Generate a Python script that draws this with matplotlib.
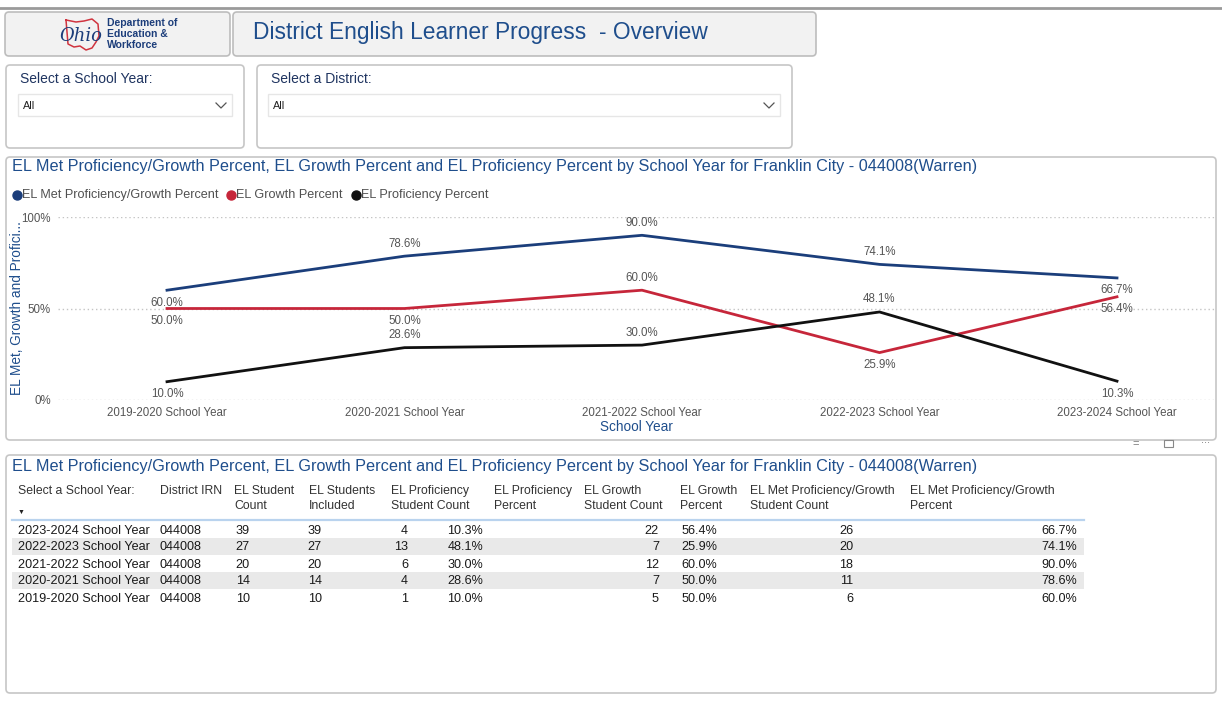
import matplotlib.pyplot as plt
from matplotlib.patches import FancyBboxPatch, Rectangle

plt.rcParams['font.family'] = ['Liberation Sans', 'DejaVu Sans']

# data
years = ['2019-2020 School Year', '2020-2021 School Year', '2021-2022 School Year',
         '2022-2023 School Year', '2023-2024 School Year']
district_irn = '044008'
el_count = [10, 14, 20, 27, 39]
el_included = [10, 14, 20, 27, 39]
prof_count = [1, 4, 6, 13, 4]
prof_pct = [10.0, 28.6, 30.0, 48.1, 10.3]
growth_count = [5, 7, 12, 7, 22]
growth_pct = [50.0, 50.0, 60.0, 25.9, 56.4]
met_count = [6, 11, 18, 20, 26]
met_pct = [60.0, 78.6, 90.0, 74.1, 66.7]

title_txt = 'EL Met Proficiency/Growth Percent, EL Growth Percent and EL Proficiency Percent by School Year for Franklin City - 044008(Warren)'

BLUE = '#1b3e7b'
RED = '#c6263a'
BLACK = '#111111'
NAVY = '#1f4e8c'
W, H = 1222, 720

fig = plt.figure(figsize=(W / 100, H / 100), dpi=100)
bg = fig.add_axes([0, 0, 1, 1])
bg.set_xlim(0, W)
bg.set_ylim(H, 0)
bg.axis('off')


def box(x0, y0, x1, y1, fc, ec='#c6c6c6', lw=1.2, r=4):
    p = FancyBboxPatch((x0, y0), x1 - x0, y1 - y0,
                       boxstyle=f'round,pad=0,rounding_size={r}',
                       fc=fc, ec=ec, lw=lw)
    bg.add_patch(p)


# top strip
bg.plot([0, W], [8, 8], color='#9a9a9a', lw=2)

# header boxes
box(5, 12, 230, 56, '#f2f2f2', ec='#bdbdbd')
box(233, 12, 816, 56, '#f2f2f2', ec='#bdbdbd')
bg.text(253, 32, 'District English Learner Progress  - Overview', fontsize=16.4,
        color=NAVY, va='center', ha='left')

# logo
ohio_x = [66, 76, 84, 92, 98, 99, 96, 92, 86, 80, 74, 68, 66]
ohio_y = [20, 22, 21, 19, 24, 36, 42, 48, 50, 46, 47, 44, 20]
bg.plot(ohio_x, ohio_y, color='#d0343f', lw=1.1)
bg.text(81, 36, 'Ohio', fontsize=13, fontstyle='italic', family='DejaVu Serif',
        color='#1c3d7a', ha='center', va='center')
for i, t in enumerate(['Department of', 'Education &', 'Workforce']):
    bg.text(107, 23 + i * 11, t, fontsize=7.5, fontweight='bold', color='#1c3d7a',
            va='center', ha='left')

# filter boxes
box(6, 65, 244, 148, 'white', ec='#c6c6c6')
box(257, 65, 792, 148, 'white', ec='#c6c6c6')
bg.text(20, 79, 'Select a School Year:', fontsize=10, color='#1f3460', va='center')
bg.text(271, 79, 'Select a District:', fontsize=10, color='#1f3460', va='center')
for x0, x1 in [(18, 232), (268, 780)]:
    bg.add_patch(Rectangle((x0, 94), x1 - x0, 22, fc='white', ec='#e6e6e6', lw=1))
    bg.text(x0 + 5, 106, 'All', fontsize=7.8, color='#222222', va='center')
    cx = x1 - 11
    bg.plot([cx - 5, cx, cx + 5], [103, 108, 103], color='#555555', lw=0.9)

# chart box
box(6, 157, 1216, 440, 'white', ec='#c6c6c6')
bg.text(12, 167, title_txt, fontsize=11.7, color=NAVY, va='center')

# legend
legend_items = [('EL Met Proficiency/Growth Percent', BLUE, 17),
                ('EL Growth Percent', RED, 231),
                ('EL Proficiency Percent', BLACK, 356)]
for lab, c, lx in legend_items:
    bg.plot([lx], [195], 'o', ms=6.5, color=c)
    bg.text(lx + 5, 195, lab, fontsize=9.1, color='#505050', va='center')

# line chart
ax = fig.add_axes([58 / W, 1 - 400 / H, (1215 - 58) / W, (400 - 217) / H])
xs = list(range(len(years)))
ax.set_xlim(-(167 - 58) / 237.5, 4 + (1215 - 1117) / 237.5)
ax.set_ylim(0, 100)
for s in ax.spines.values():
    s.set_visible(False)
ax.set_yticks([0, 50, 100])
ax.set_yticklabels(['0%', '50%', '100%'])
ax.set_xticks(xs)
ax.set_xticklabels(years)
ax.tick_params(length=0, labelsize=8.3, labelcolor='#555555')
ax.tick_params(axis='y', pad=5)
ax.tick_params(axis='x', pad=5)
ax.grid(axis='y', color='#c4c4c4', ls=(0, (1, 2)), lw=1)
ax.set_axisbelow(True)

series = [(met_pct, BLUE, [-1, 1, 1, 1, -1]),
          (growth_pct, RED, [-1, -1, 1, -1, -1]),
          (prof_pct, BLACK, [-1, 1, 1, 1, -1])]
for vals, c, place in series:
    ax.plot(xs, vals, color=c, lw=2, clip_on=False, solid_joinstyle='round')
for vals, c, place in series:
    for x, v, p in zip(xs, vals, place):
        ax.annotate(f'{v:.1f}%', (x, v), xytext=(0, 9 * p), textcoords='offset points',
                    ha='center', va='center', fontsize=8.3, color='#555555')

ax.set_xlabel('School Year', fontsize=9.8, color=NAVY, labelpad=1)
bg.text(17, 308, 'EL Met, Growth and Profici...', rotation=90, fontsize=9.8,
        color=NAVY, ha='center', va='center')

# small header icons under chart
bg.text(1136, 444, '=', fontsize=8, color='#777777', ha='center', va='center')
bg.add_patch(Rectangle((1164, 440), 9, 7, fc='none', ec='#888888', lw=0.8))
bg.text(1205, 440, '...', fontsize=8, color='#777777', ha='center', va='center')

# table box
box(6, 455, 1216, 693, 'white', ec='#c6c6c6')
bg.text(12, 467, title_txt, fontsize=11.7, color=NAVY, va='center')

headers = [('Select a School Year:', 18), ('District IRN', 160), ('EL Student\nCount', 234),
           ('EL Students\nIncluded', 309), ('EL Proficiency\nStudent Count', 391),
           ('EL Proficiency\nPercent', 494), ('EL Growth\nStudent Count', 584),
           ('EL Growth\nPercent', 680), ('EL Met Proficiency/Growth\nStudent Count', 750),
           ('EL Met Proficiency/Growth\nPercent', 910)]
for t, hx in headers:
    bg.text(hx, 485, t, fontsize=8.8, color='#333333', va='top', ha='left',
            linespacing=1.3)
bg.text(21, 512, '\u25bc', fontsize=5, color='#222222', ha='center', va='center')
bg.plot([12, 1084], [520, 520], color='#b9d3ee', lw=1.6)

row_y0 = 521
row_h = 17
order = list(range(len(years)))[::-1]
for r, i in enumerate(order):
    y = row_y0 + r * row_h
    if r % 2 == 1:
        bg.add_patch(Rectangle((12, y), 1072, row_h, fc='#e9e9e9', ec='none'))
    yc = y + row_h / 2 + 1
    cells = [(years[i], 18, 'left'), (district_irn, 160, 'left'),
             (str(el_count[i]), 250, 'right'), (str(el_included[i]), 322, 'right'),
             (str(prof_count[i]), 408, 'right'), (f'{prof_pct[i]:.1f}%', 483, 'right'),
             (str(growth_count[i]), 659, 'right'), (f'{growth_pct[i]:.1f}%', 717, 'right'),
             (str(met_count[i]), 853, 'right'), (f'{met_pct[i]:.1f}%', 1077, 'right')]
    for t, cx, ha in cells:
        bg.text(cx, yc, t, fontsize=9.1, color='#1a1a1a', ha=ha, va='center')

fig.savefig('out.png', dpi=100)
